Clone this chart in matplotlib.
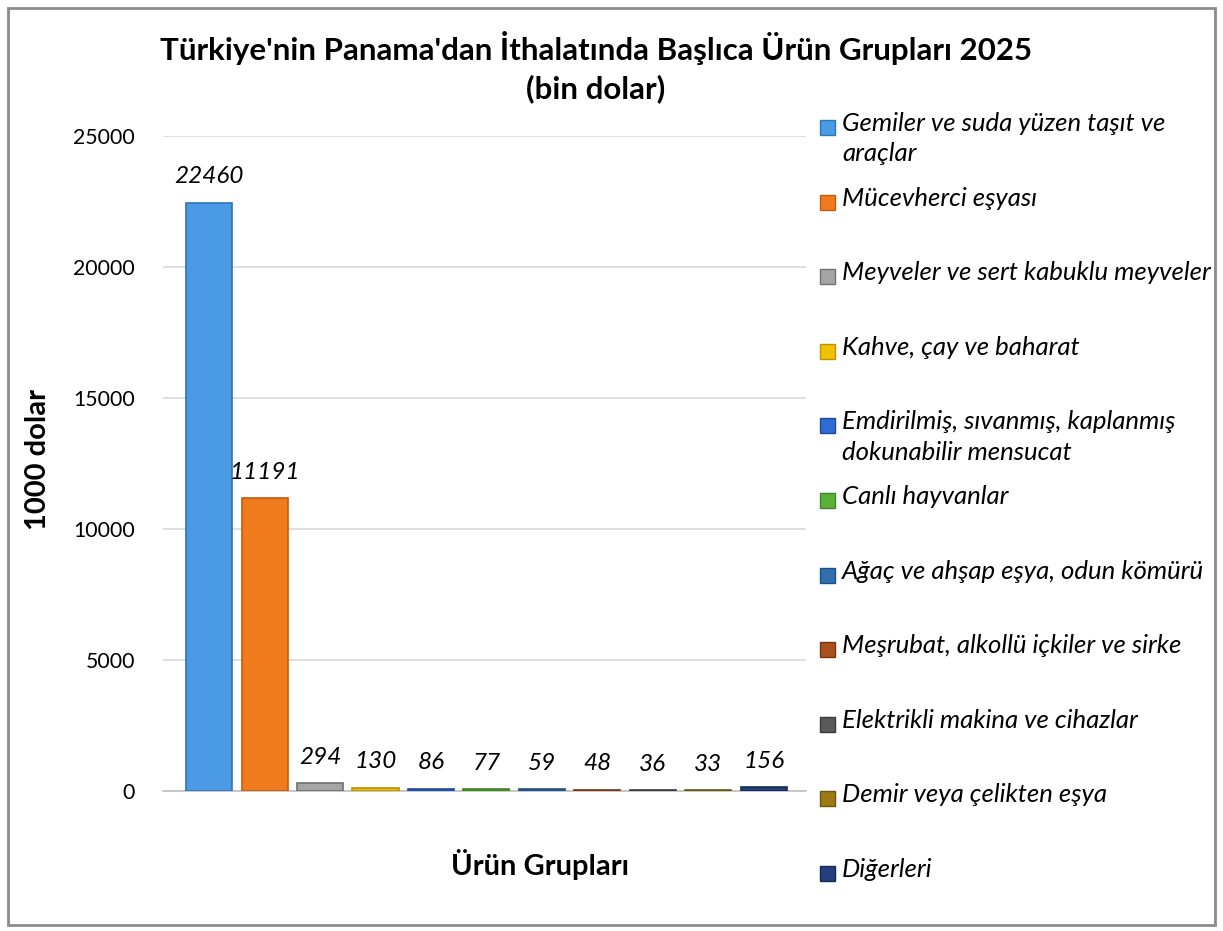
import matplotlib.pyplot as plt
from matplotlib.patches import Rectangle

# urun gruplari ve degerler (bin dolar)
kategoriler = [
    "Gemiler ve suda yüzen taşıt ve\naraçlar",
    "Mücevherci eşyası",
    "Meyveler ve sert kabuklu meyveler",
    "Kahve, çay ve baharat",
    "Emdirilmiş, sıvanmış, kaplanmış\ndokunabilir mensucat",
    "Canlı hayvanlar",
    "Ağaç ve ahşap eşya, odun kömürü",
    "Meşrubat, alkollü içkiler ve sirke",
    "Elektrikli makina ve cihazlar",
    "Demir veya çelikten eşya",
    "Diğerleri",
]
degerler = [22460, 11191, 294, 130, 86, 77, 59, 48, 36, 33, 156]
renkler = ["#4a9be3", "#f07b1c", "#a5a5a5", "#f2c200", "#2f6bd0", "#5bb03a",
           "#2f6fae", "#a8511f", "#5a5a5a", "#9c7a16", "#23407c"]
kenarlar = ["#2f74b5", "#c45a0c", "#707070", "#b89200", "#1d4a9a", "#3d8425",
            "#1f4f80", "#7a3510", "#3a3a3a", "#6f560c", "#142a55"]
y_ticks = [0, 5000, 10000, 15000, 20000, 25000]

plt.rcParams['font.family'] = ['Lato', 'DejaVu Sans']

fig = plt.figure(figsize=(12.23, 9.31), dpi=100)
W, H = 1223, 931

ax = fig.add_axes([163 / W, 1 - 791 / H, (806 - 163) / W, (791 - 136) / H])
x = list(range(len(degerler)))
ax.bar(x, degerler, width=0.83, color=renkler, edgecolor=kenarlar, linewidth=1.2, zorder=3)

for xi, v in zip(x, degerler):
    ax.annotate(str(v), (xi, v), xytext=(0, 11), textcoords="offset points",
                ha="center", va="bottom", fontsize=17.5, style="italic")

ax.set_xlim(-0.83, 10.76)
ax.set_ylim(0, 25000)
ax.set_yticks(y_ticks)
ax.set_yticklabels([str(t) for t in y_ticks], fontsize=15.3)
ax.tick_params(axis="y", length=0, pad=20)
ax.set_xticks([])
ax.grid(axis="y", color="#d9d9d9", linewidth=1.2, zorder=0)
for s in ["top", "right", "left"]:
    ax.spines[s].set_visible(False)
ax.spines["bottom"].set_color("#bfbfbf")
ax.spines["bottom"].set_linewidth(1.2)

fig.text(596 / W, 1 - 67 / H, "Türkiye'nin Panama'dan İthalatında Başlıca Ürün Grupları 2025\n(bin dolar)",
         ha="center", va="center", fontsize=22.5, fontweight="bold", linespacing=1.4)
fig.text(38 / W, 1 - 460 / H, "1000 dolar", rotation=90, ha="center", va="center",
         fontsize=21, fontweight="bold")
fig.text(540 / W, 1 - 865 / H, "Ürün Grupları", ha="center", va="center",
         fontsize=21, fontweight="bold")

# lejant
for i, (ad, renk, kenar) in enumerate(zip(kategoriler, renkler, kenarlar)):
    y0 = 127 + i * 74.6
    fig.patches.append(Rectangle((820 / W, 1 - (y0 + 8) / H), 15 / W, 15 / H,
                                 transform=fig.transFigure, facecolor=renk,
                                 edgecolor=kenar, linewidth=1))
    fig.text(842 / W, 1 - (y0 - 15) / H, ad, ha="left", va="top", fontsize=18.5,
             style="italic", linespacing=1.38)

fig.patches.append(Rectangle((8 / W, 6 / H), 1207 / W, 917 / H, transform=fig.transFigure,
                             fill=False, edgecolor="#8c8c8c", linewidth=2))

fig.savefig("out.png", dpi=100)
